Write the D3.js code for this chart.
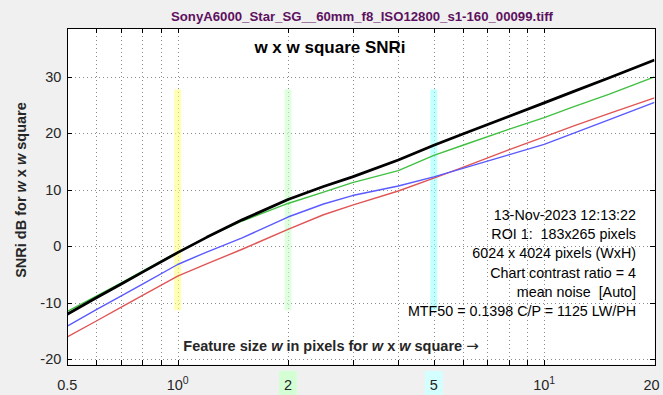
<!DOCTYPE html>
<html>
<head>
<meta charset="utf-8">
<script src="https://cdn.jsdelivr.net/npm/d3@7"></script>
<style>
  html, body { margin: 0; padding: 0; background: #f0f0f0; }
  svg { display: block; font-family: "Liberation Sans", Arial, Helvetica, sans-serif; }
</style>
</head>
<body>
<svg id="chart" width="663" height="395"></svg>
<script>
// Feature size w (pixels) at which SNRi was evaluated
const featureSize = [0.5, 0.6, 0.7, 0.8, 1, 1.2, 1.5, 2, 2.5, 3, 4, 5, 6, 8, 10, 12, 15, 20];

// SNRi (dB) for each channel
const snriY = [-12.0, -9.1, -6.7, -4.6, -1.1, 1.6, 4.7, 8.3, 10.6, 12.3, 15.3, 17.9, 19.9, 23.0, 25.4, 27.4, 29.8, 33.0];
const snriG = [-11.5, -8.8, -6.5, -4.4, -1.0, 1.6, 4.5, 7.6, 9.6, 11.3, 13.4, 16.1, 17.9, 20.7, 22.8, 24.7, 26.9, 30.0];
const snriB = [-14.1, -11.2, -8.8, -6.7, -3.2, -1.0, 1.5, 5.2, 7.5, 9.0, 10.7, 12.3, 13.8, 16.2, 18.05, 20.0, 22.4, 25.5];
const snriR = [-16.0, -13.2, -10.8, -8.7, -5.26, -3.1, -0.5, 3.0, 5.6, 7.3, 9.8, 12.1, 14.0, 17.1, 19.4, 21.3, 23.5, 26.3];

// Axis ticks
const xTickValues = [0.5, 1, 2, 5, 10, 20];
const xMinorValues = [0.6, 0.7, 0.8, 0.9, 3, 4, 6, 7, 8, 9];
const yTickValues = [-20, -10, 0, 10, 20, 30];

// Highlighted feature sizes and the SNRi span they cover
const markerSizes = [1, 2, 5];
const markerSpan = [-11.3, 27.8];

// Annotation lines
const infoLines = [
  "13-Nov-2023 12:13:22",
  "ROI 1:  183x265 pixels",
  "6024 x 4024 pixels (WxH)",
  "Chart contrast ratio = 4",
  "mean noise  [Auto]",
  "MTF50 = 0.1398 C/P = 1125 LW/PH"
];

const svg = d3.select("#chart");
const W = 663, H = 395;
const pLeft = 67.3, pRight = 654.5, pTop = 28.3, pBottom = 364.5;

const x = d3.scaleLog().domain([0.5, 20]).range([pLeft, pRight]);
const y = d3.scaleLinear().domain([-20.9, 38.6]).range([pBottom, pTop]);

svg.append("rect").attr("width", W).attr("height", H).attr("fill", "#f0f0f0");
svg.append("rect").attr("x", pLeft).attr("y", pTop)
  .attr("width", pRight - pLeft).attr("height", pBottom - pTop).attr("fill", "#ffffff");

// Grid
const gridColor = "#8c8c8c";
const gGrid = svg.append("g").attr("stroke", gridColor).attr("stroke-width", 1)
  .attr("stroke-dasharray", "1,3").attr("shape-rendering", "crispEdges");
xTickValues.concat(xMinorValues).forEach(v => {
  const px = Math.round(x(v)) + 0.5;
  gGrid.append("line").attr("x1", px).attr("x2", px).attr("y1", pTop).attr("y2", pBottom);
});
yTickValues.forEach(v => {
  const py = Math.round(y(v)) + 0.5;
  gGrid.append("line").attr("x1", pLeft).attr("x2", pRight).attr("y1", py).attr("y2", py);
});

// Highlight bands
const bandColors = ["#ffff80", "#ccffcc", "#99ffff"];
markerSizes.forEach((w, i) => {
  svg.append("rect")
    .attr("x", x(w) - 3.5).attr("width", 7)
    .attr("y", y(markerSpan[1])).attr("height", y(markerSpan[0]) - y(markerSpan[1]))
    .attr("fill", bandColors[i]).attr("opacity", 0.6);
});

// Series
svg.append("clipPath").attr("id", "plotClip")
  .append("rect").attr("x", pLeft).attr("y", pTop).attr("width", pRight - pLeft).attr("height", pBottom - pTop);
const line = d3.line().x((d, i) => x(featureSize[i])).y(d => y(d));
const series = [
  { values: snriR, color: "#e05555", width: 1.4 },
  { values: snriB, color: "#5a5aff", width: 1.4 },
  { values: snriG, color: "#40c040", width: 1.4 },
  { values: snriY, color: "#000000", width: 2.8 }
];
const gLines = svg.append("g").attr("clip-path", "url(#plotClip)");
series.forEach(s => {
  gLines.append("path").datum(s.values).attr("d", line)
    .attr("fill", "none").attr("stroke", s.color).attr("stroke-width", s.width)
    .attr("stroke-linejoin", "round");
});

// Axis box and inward ticks
const gAxis = svg.append("g").attr("stroke", "#000").attr("stroke-width", 1).attr("shape-rendering", "crispEdges");
gAxis.append("rect").attr("x", Math.round(pLeft) + 0.5).attr("y", Math.round(pTop) + 0.5)
  .attr("width", Math.round(pRight) - Math.round(pLeft)).attr("height", Math.round(pBottom) - Math.round(pTop))
  .attr("fill", "none");
const tickLen = 5;
xTickValues.concat(xMinorValues).forEach(v => {
  const px = Math.round(x(v)) + 0.5;
  gAxis.append("line").attr("x1", px).attr("x2", px).attr("y1", pBottom).attr("y2", pBottom - tickLen);
  gAxis.append("line").attr("x1", px).attr("x2", px).attr("y1", pTop).attr("y2", pTop + tickLen);
});
yTickValues.forEach(v => {
  const py = Math.round(y(v)) + 0.5;
  gAxis.append("line").attr("x1", pLeft).attr("x2", pLeft + tickLen).attr("y1", py).attr("y2", py);
  gAxis.append("line").attr("x1", pRight).attr("x2", pRight - tickLen).attr("y1", py).attr("y2", py);
});

// Y tick labels
svg.append("g").selectAll("text").data(yTickValues).join("text")
  .attr("x", pLeft - 6).attr("y", d => y(d) + 5)
  .attr("text-anchor", "end").attr("font-size", 14.5).attr("fill", "#262626")
  .text(d => d);

// X tick labels
const labelBg = { 2: "#d4ffd4", 5: "#d4ffff" };
const gx = svg.append("g");
xTickValues.forEach(v => {
  const px = Math.min(x(v), pRight - 3);
  if (labelBg[v]) {
    gx.append("rect").attr("x", px - 9).attr("y", 371).attr("width", 18).attr("height", 24)
      .attr("fill", labelBg[v]);
  }
  const t = gx.append("text").attr("x", px).attr("y", 390)
    .attr("text-anchor", "middle").attr("font-size", 14.5).attr("fill", "#262626");
  const exp = Math.log10(v);
  if (Number.isInteger(exp)) {
    t.append("tspan").text("10");
    t.append("tspan").attr("font-size", 10.5).attr("dy", -6).text(exp);
  } else {
    t.text(v);
  }
});

// Titles
svg.append("text").attr("x", 362).attr("y", 21).attr("text-anchor", "middle")
  .attr("font-size", 13.2).attr("font-weight", "bold").attr("fill", "#5e1060")
  .text("SonyA6000_Star_SG__60mm_f8_ISO12800_s1-160_00099.tiff");
svg.append("text").attr("x", 330).attr("y", 53).attr("text-anchor", "middle")
  .attr("font-size", 17).attr("font-weight", "bold").attr("fill", "#000")
  .text("w x w square SNRi");

// Axis labels with italic w
function richLabel(sel, parts) {
  parts.forEach(p => {
    const ts = sel.append("tspan").text(p);
    if (p === "w") ts.attr("font-style", "italic");
    if (p === "\u2192") ts.attr("font-family", "DejaVu Sans").attr("font-weight", "normal").attr("font-size", 15);
  });
}
const xl = svg.append("text").attr("x", 331).attr("y", 351).attr("text-anchor", "middle")
  .attr("font-size", 14.5).attr("font-weight", "bold").attr("fill", "#262626")
  .attr("xml:space", "preserve");
richLabel(xl, ["Feature size ", "w", " in pixels for ", "w", " x ", "w", " square ", "\u2192"]);

const yl = svg.append("text").attr("transform", "translate(26,190) rotate(-90)")
  .attr("text-anchor", "middle").attr("font-size", 14.5).attr("font-weight", "bold").attr("fill", "#262626")
  .attr("xml:space", "preserve");
richLabel(yl, ["SNRi dB for ", "w", " x ", "w", " square"]);

// Annotation block
svg.append("g").selectAll("text").data(infoLines).join("text")
  .attr("x", 636).attr("y", (d, i) => 220 + i * 19.2)
  .attr("text-anchor", "end").attr("font-size", 14.3).attr("fill", "#000")
  .attr("xml:space", "preserve")
  .text(d => d);
</script>
</body>
</html>
